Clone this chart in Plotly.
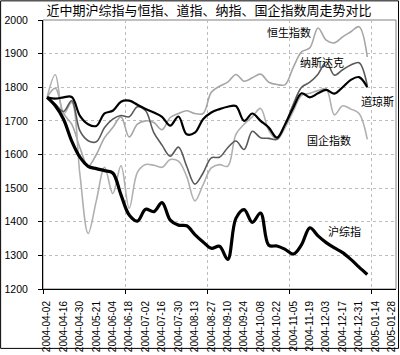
import plotly.graph_objects as go

# ---- data ----
weeks = ["2004-04-02","2004-04-09","2004-04-16","2004-04-23","2004-04-30","2004-05-14",
         "2004-05-21","2004-05-28","2004-06-04","2004-06-11","2004-06-18","2004-06-25",
         "2004-07-02","2004-07-09","2004-07-16","2004-07-23","2004-07-30","2004-08-06",
         "2004-08-13","2004-08-20","2004-08-27","2004-09-03","2004-09-10","2004-09-17",
         "2004-09-24","2004-10-01","2004-10-08","2004-10-15","2004-10-22","2004-10-29",
         "2004-11-05","2004-11-12","2004-11-19","2004-11-26","2004-12-03","2004-12-10",
         "2004-12-17","2004-12-24","2004-12-31","2005-01-07","2005-01-14","2005-01-21",
         "2005-01-28"]

shcomp = [1770,1745,1705,1640,1592,1565,1558,1552,1545,1480,1420,1402,1437,1430,1457,1405,
          1390,1388,1362,1340,1321,1327,1288,1410,1436,1398,1426,1330,1328,1318,1304,1332,
          1382,1358,1338,1322,1308,1288,1265,1243]
dow = [1770,1766,1770,1771,1715,1690,1685,1722,1730,1757,1760,1748,1735,1725,1712,1686,
       1713,1660,1665,1705,1725,1735,1742,1744,1700,1722,1700,1680,1650,1690,1740,1782,
       1770,1782,1792,1781,1800,1822,1830,1800]
nasdaq = [1770,1750,1728,1760,1670,1641,1638,1680,1705,1716,1712,1742,1730,1665,1628,1595,
          1622,1565,1512,1545,1590,1592,1620,1640,1615,1669,1650,1648,1645,1690,1750,1800,
          1815,1839,1875,1836,1852,1866,1873,1805]
hsi = [1770,1797,1722,1690,1620,1565,1600,1650,1680,1712,1652,1690,1700,1695,1674,1710,
       1722,1730,1722,1722,1785,1803,1815,1838,1818,1828,1839,1815,1808,1808,1860,1905,
       1917,1976,1940,1932,1950,1965,1980,1890]
hshares = [1770,1837,1720,1755,1540,1365,1463,1562,1484,1567,1440,1547,1570,1568,1562,1585,
           1580,1535,1462,1510,1560,1570,1565,1660,1690,1712,1737,1672,1645,1680,1730,1776,
           1782,1790,1795,1718,1745,1735,1722,1645]

names = ["恒生指数", "国企指数", "纳斯达克", "道琼斯", "沪综指"]

# ---- geometry helpers (layout only) ----
W, H = 400, 355
ML, MR, MT, MB = 43, 3, 20, 61
PW, PH = W - ML - MR, H - MT - MB

fig = go.Figure()

styles = [
    (hsi, "#a6a6a6", 1.6),
    (hshares, "#b0b0b0", 1.6),
    (nasdaq, "#595959", 1.6),
    (dow, "#000000", 2.2),
    (shcomp, "#000000", 3.2),
]
for name, (vals, col, wid) in zip(names, styles):
    fig.add_trace(go.Scatter(
        x=list(range(len(vals))), y=vals, mode="lines", name=name,
        line=dict(color=col, width=wid, shape="spline", smoothing=1.0),
        showlegend=False, hoverinfo="skip"))

tick_font = dict(family="Liberation Sans, Arial, sans-serif", size=10, color="#000")
grid_dash = "3px,3px"

fig.update_layout(
    width=W, height=H,
    margin=dict(l=ML, r=MR, t=MT, b=MB, pad=0),
    paper_bgcolor="white", plot_bgcolor="white",
    title=dict(text="近中期沪综指与恒指、道指、纳指、国企指数周走势对比",
               x=209 / W, xref="container", xanchor="center",
               y=1 - 10 / H, yref="container", yanchor="middle",
               font=dict(family="Noto Sans CJK SC", size=13, color="#000")),
    xaxis=dict(range=[-0.5, len(weeks) - 0.5], tickmode="array",
               tickvals=list(range(0, len(weeks), 2)), ticktext=weeks[::2],
               tickangle=-90, tickfont=tick_font, showgrid=False, zeroline=False,
               ticks="outside", ticklen=7, tickcolor="rgba(0,0,0,0)",
               showline=True, linecolor="#000", linewidth=1,
               minor=dict(tickmode="linear", tick0=-0.5, dtick=10,
                          showgrid=True, gridcolor="#bdbdbd", griddash=grid_dash,
                          gridwidth=1, ticks="outside", ticklen=4, tickcolor="#000")),
    yaxis=dict(range=[1200, 2000], dtick=100, tickfont=dict(tick_font, size=10.5),
               showgrid=True, gridcolor="#bdbdbd", griddash=grid_dash, gridwidth=1,
               zeroline=False, showline=True, linecolor="#000", linewidth=1,
               ticks="outside", ticklen=4, tickcolor="#000", ticklabelstandoff=8),
)

# plot-area frame and outer picture frame
fig.add_shape(type="rect", xref="paper", yref="paper", x0=0, x1=1, y0=0, y1=1,
              line=dict(color="#808080", width=1), layer="below")
fig.add_shape(type="rect", xref="paper", yref="paper",
              x0=(-ML + 0.5) / PW, x1=1 + (MR - 0.5) / PW,
              y0=(-MB + 0.5) / PH, y1=1 + (MT - 0.5) / PH,
              line=dict(color="#000", width=1))

# series labels
lab_font = dict(family="Noto Sans CJK SC", size=11, color="#000")
label_pos = [(290, 32), (330, 142), (323, 63), (378, 103), (345, 235)]
for name, (px, py) in zip(names, label_pos):
    fig.add_annotation(text=name, xref="paper", yref="paper",
                       x=(px - ML) / PW, y=(H - MB - py) / PH,
                       xanchor="center", yanchor="middle", showarrow=False,
                       font=lab_font)

fig.write_html("out.html", config={"displayModeBar": False},
               post_script="document.body.style.margin='0';")
